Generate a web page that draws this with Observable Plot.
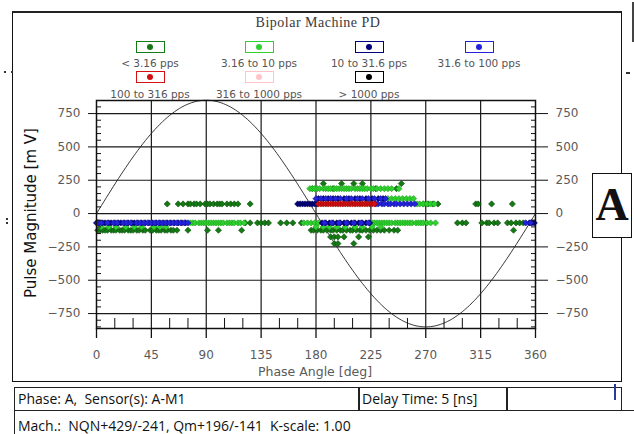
<!DOCTYPE html>
<html><head><meta charset="utf-8">
<script src="https://cdn.jsdelivr.net/npm/d3@7"></script>
<script src="https://cdn.jsdelivr.net/npm/@observablehq/plot@0.6"></script>
<style>
html,body{margin:0;padding:0;background:#fff;}
#wrap{position:relative;width:634px;height:434px;overflow:hidden;background:#fff;}
#wrap svg{position:absolute;left:0;top:0;}
.abs{position:absolute;box-sizing:border-box;}
.lab{font-family:"DejaVu Sans",sans-serif;font-size:10.5px;color:#555;white-space:nowrap;text-align:center;width:140px;line-height:12px;}
.lbox{width:29px;height:12px;background:#fff;}
.ldot{position:absolute;left:11px;top:3px;width:6px;height:6px;border-radius:50%;}
.cell{font-family:"Open Sans",sans-serif;font-size:14px;color:#111;white-space:nowrap;border:1.5px solid #222;padding-left:3px;}
</style></head><body><div id="wrap"></div>
<script>
// ---- legend / series ----
const seriesNames = ["< 3.16 pps", "3.16 to 10 pps", "10 to 31.6 pps", "31.6 to 100 pps",
                     "100 to 316 pps", "316 to 1000 pps", "> 1000 pps"];
const seriesColors = ["#147a14", "#2fd12f", "#00007a", "#2323dd", "#d41010", "#ffc4c8", "#000000"];
const seriesStroke = ["#0a4a0a", "#1a9a1a", "#000050", "#10109a", "#8a0808", "#e0a0a0", "#000000"];

// ---- PD points: [magnitude mV, [phase deg ...]] per series ----
const pts_lt3 = [
  [225, [186, 201, 211, 218, 250]],
  [187, [177, 194, 229, 246]],
  [72, [58, 67, 71, 75, 77, 80, 82, 85, 89, 91, 93, 96, 99, 101, 103, 107, 110, 113, 116, 126,
        268, 272, 276, 280, 311, 313, 324, 341]],
  [-70, [122, 126, 132, 135, 138, 141, 151, 156, 161, 168, 296, 300, 303, 316, 320, 322, 326, 329,
         337, 340, 344, 347, 350]],
  [-125, [1, 3, 5, 7, 9, 12, 14, 16, 19, 21, 23, 26, 28, 30, 33, 35, 38, 40, 44, 46, 49, 51, 53, 56,
          58, 61, 63, 66, 75, 91, 100, 119, 176, 178, 181, 184, 186, 189, 192, 194, 197, 200, 202,
          205, 208, 210, 213, 216, 218, 221, 224, 227, 230, 233, 236, 240, 244, 247, 342]],
  [-175, [192, 195, 198, 203, 215, 223]],
  [-225, [195, 198, 211]]
];
const pts_3to10 = [
  [187, [175, 177, 179, 181, 183, 186, 188, 190, 192, 195, 197, 199, 201, 203, 205, 207, 209, 212,
         214, 216, 218, 220, 222, 225, 227, 230, 233, 236, 239, 242, 248]],
  [112, [239, 242, 245, 248, 251, 254, 257, 260]],
  [72, [263, 265, 268, 271, 274, 277]],
  [-70, [77, 79, 81, 84, 86, 88, 90, 92, 94, 96, 98, 100, 102, 104, 107, 109, 111, 113, 116, 118, 121,
         170, 173, 176, 179, 182, 226, 228, 230, 232, 234, 236, 238, 240, 242, 245, 247, 249, 251,
         253, 255, 257, 259, 262, 264, 266, 268, 271, 274, 278]],
  [-100, [4, 10, 16, 24, 31, 37, 47, 52, 57, 180, 186, 191, 197, 204, 212, 218, 226, 233]]
];
const pts_10to31 = [
  [112, [182, 186, 190, 194, 198, 203, 207, 212, 216, 221, 226, 231, 235]],
  [72, [165, 167, 169, 171, 173, 175, 177, 179, 181]],
  [-70, [0, 2, 5, 7, 10, 12, 15, 18, 20, 23, 26, 29, 31, 34, 37, 40, 43, 46, 49, 52, 55, 58, 61, 64,
         67, 70, 73, 185, 188, 191, 194, 197, 200, 203, 206, 209, 212, 215, 218, 221, 224, 355, 357, 359]]
];
const pts_31to100 = [
  [112, [180, 184, 188, 192, 196, 200, 205, 209, 214, 218, 223, 228, 233, 237]],
  [72, [229, 231, 234, 236, 239, 241, 244, 246, 249, 252, 255, 258, 261]],
  [-70, [1, 4, 9, 14, 17, 22, 25, 28, 33, 36, 39, 42, 45, 48, 51, 54, 57, 60, 63, 66, 69, 72, 75,
         187, 193, 199, 205, 211, 217, 223, 352, 356]]
];
const pts_100to316 = [
  [72, [182, 184, 186, 188, 190, 192, 194, 196, 198, 200, 202, 204, 206, 208, 210, 212, 214, 216,
        218, 220, 222, 224, 226, 228]]
];
const pts_316to1000 = [];
const pts_gt1000 = [];

// ---- axes ----
const xTicks = [0, 45, 90, 135, 180, 225, 270, 315, 360];
const xGrid = [45, 90, 135, 180, 225, 270, 315];
const xMinor = [15, 30, 60, 75, 105, 120, 150, 165, 195, 210, 240, 255, 285, 300, 330, 345];
const yTicks = [-750, -500, -250, 0, 250, 500, 750];
const yMinor = [-850, -800, -700, -650, -600, -550, -450, -400, -350, -300, -200, -150, -100, -50,
                50, 100, 150, 200, 300, 350, 400, 450, 550, 600, 650, 700, 800];
const xDomain = [0, 360];
const yDomain = [-862, 848];

// reference supply voltage sine (amplitude in mV on this display)
const sineAmp = 850;
const sinePhase = d3.range(0, 361, 2);
const sine = sinePhase.map(p => ({p, v: sineAmp * Math.sin(p * Math.PI / 180)}));

const allSeries = [pts_lt3, pts_3to10, pts_10to31, pts_31to100, pts_100to316, pts_316to1000, pts_gt1000];
const rows = allSeries.map(s => s.flatMap(([m, ps]) => ps.map(p => ({phase: p, mag: m}))));

const dotMarks = rows.map((r, i) => Plot.dot(r, {
  x: "phase", y: "mag", symbol: "diamond2", r: 2.8,
  fill: seriesColors[i], stroke: seriesStroke[i], strokeWidth: 0.6
}));

const plot = Plot.plot({
  width: 634, height: 434,
  marginLeft: 96, marginRight: 99, marginTop: 100, marginBottom: 106,
  x: {domain: xDomain},
  y: {domain: yDomain},
  style: {fontFamily: "DejaVu Sans, sans-serif", fontSize: "12px", color: "#111", background: "transparent"},
  marks: [
    Plot.ruleY(yTicks, {stroke: "#1a1a1a", strokeWidth: 1.2}),
    Plot.ruleX(xGrid, {stroke: "#1a1a1a", strokeWidth: 1.2}),
    Plot.line(sine, {x: "p", y: "v", stroke: "#222", strokeWidth: 0.9}),
    ...dotMarks,
    Plot.frame({stroke: "#111", strokeWidth: 1.5}),
    Plot.axisY(yTicks, {anchor: "left", tickSize: 8, tickPadding: 8, stroke: "#111", fill: "#5a5a5a", label: null}),
    Plot.axisY(yTicks, {anchor: "right", tickSize: 12, tickPadding: 8, stroke: "#111", fill: "#5a5a5a", label: null}),
    Plot.axisY(yMinor, {anchor: "left", tickSize: 5, dx: 5, stroke: "#111", fill: "none", label: null}),
    Plot.axisY(yMinor, {anchor: "right", tickSize: 5, dx: -5, stroke: "#111", fill: "none", label: null}),
    Plot.axisX(xTicks, {anchor: "bottom", tickSize: 10, tickPadding: 12, stroke: "#111", fill: "#5a5a5a", label: null, strokeWidth: 1.3}),
    Plot.axisX(xMinor, {anchor: "bottom", tickSize: 10, dy: -10, stroke: "#111", fill: "none", label: null})
  ]
});

const wrap = document.getElementById("wrap");
wrap.appendChild(plot);

function add(html) { wrap.insertAdjacentHTML("beforeend", html); }

// outer frame
add(`<div class="abs" style="left:12px;top:11px;width:610px;height:371px;border:1.5px solid #111;border-top:2.5px solid #222;"></div>`);
// title
add(`<div class="abs" style="left:218px;top:15px;width:200px;text-align:center;font-family:'Liberation Serif',serif;font-size:14px;letter-spacing:0.5px;color:#3a3a3a;line-height:16px;">Bipolar Machine PD</div>`);
// legend
const legCx = [150, 259, 369, 479];
const legRowsBox = [41, 71];
const legRowsLab = [57, 88];
seriesNames.forEach((name, i) => {
  const col = i % 4, row = Math.floor(i / 4);
  const cx = legCx[col];
  add(`<div class="abs lbox" style="left:${cx - 14.5}px;top:${legRowsBox[row]}px;border:1.5px solid ${seriesColors[i]};"><div class="ldot" style="left:10px;top:2px;background:${seriesColors[i]};"></div></div>`);
  add(`<div class="abs lab" style="left:${cx - 70}px;top:${legRowsLab[row]}px;">${name.replace("<", "&lt;").replace(">", "&gt;")}</div>`);
});
// axis labels
add(`<div class="abs" style="left:31px;top:213px;transform:translate(-50%,-50%) rotate(-90deg);font-family:'DejaVu Sans',sans-serif;font-size:15px;color:#111;white-space:nowrap;">Pulse Magnitude [m V]</div>`);
add(`<div class="abs" style="left:315px;top:371px;transform:translate(-50%,-50%);font-family:'DejaVu Sans',sans-serif;font-size:12.5px;color:#5a5a5a;white-space:nowrap;">Phase Angle [deg]</div>`);
// phase "A" box
add(`<div class="abs" style="left:592px;top:173px;width:40px;height:65px;border:1.5px solid #111;background:#fff;font-family:'Liberation Serif',serif;font-weight:bold;font-size:46px;line-height:62px;text-align:center;color:#111;">A</div>`);
// info table
add(`<div class="abs cell" style="left:14px;top:387px;width:346px;height:24px;line-height:21px;">Phase: A,&nbsp; Sensor(s): A-M1</div>`);
add(`<div class="abs cell" style="left:358px;top:387px;width:150px;height:24px;line-height:21px;">Delay Time: 5 [ns]</div>`);
add(`<div class="abs cell" style="left:506px;top:387px;width:116px;height:24px;"></div>`);
add(`<div class="abs cell" style="left:14px;top:409.5px;width:640px;height:40px;line-height:30px;">Mach.:&nbsp; NQN+429/-241, Qm+196/-141&nbsp; K-scale: 1.00</div>`);
// small marks
add(`<div class="abs" style="left:4px;top:71px;width:2px;height:2px;background:#333;"></div>`);
add(`<div class="abs" style="left:11px;top:71px;width:2px;height:2px;background:#333;"></div>`);
add(`<div class="abs" style="left:6px;top:218px;width:2px;height:2px;background:#333;"></div>`);
add(`<div class="abs" style="left:6px;top:222px;width:2px;height:2px;background:#333;"></div>`);
add(`<div class="abs" style="left:626px;top:72px;width:4px;height:1.5px;background:#333;"></div>`);
add(`<div class="abs" style="left:632px;top:2px;width:1.5px;height:40px;background:#444;"></div>`);
add(`<div class="abs" style="left:614px;top:384px;width:1.5px;height:16px;background:#2a3a9a;"></div>`);
</script>
</body></html>
